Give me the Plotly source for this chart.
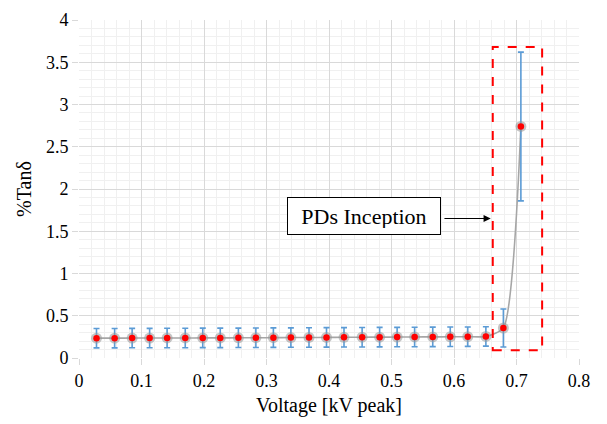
import numpy as np
import plotly.graph_objects as go

# Test voltage steps (kV peak) and measured loss tangent (%)
voltage = [0.028, 0.057, 0.085, 0.113, 0.141, 0.170, 0.198, 0.226, 0.255, 0.283,
           0.311, 0.339, 0.368, 0.396, 0.424, 0.453, 0.481, 0.509, 0.537, 0.566,
           0.594, 0.622, 0.651, 0.679, 0.707]
tan_delta = [0.235, 0.235, 0.236, 0.236, 0.237, 0.237, 0.238, 0.238, 0.239, 0.240,
             0.241, 0.242, 0.243, 0.244, 0.245, 0.246, 0.247, 0.248, 0.249, 0.250,
             0.251, 0.252, 0.255, 0.355, 2.74]
tan_err = [0.115, 0.115, 0.115, 0.115, 0.115, 0.115, 0.115, 0.115, 0.115, 0.115,
           0.115, 0.115, 0.115, 0.115, 0.115, 0.115, 0.115, 0.115, 0.115, 0.115,
           0.115, 0.115, 0.115, 0.225, 0.88]

x_ticks = [0, 0.1, 0.2, 0.3, 0.4, 0.5, 0.6, 0.7, 0.8]
x_tick_text = ["0", "0.1", "0.2", "0.3", "0.4", "0.5", "0.6", "0.7", "0.8"]
y_ticks = [0, 0.5, 1, 1.5, 2, 2.5, 3, 3.5, 4]
y_tick_text = ["0", "0.5", "1", "1.5", "2", "2.5", "3", "3.5", "4"]

# Highlight region around the inception voltage
region_x = [0.662, 0.741]
region_y = [0.092, 3.68]
label_text = "PDs Inception"

serif = "Liberation Serif, Times New Roman, serif"

fig = go.Figure()

# smooth connecting curve
fig.add_trace(go.Scatter(
    x=voltage, y=tan_delta, mode="lines",
    line=dict(color="#a6a6a6", width=1.6, shape="spline", smoothing=0.6),
    hoverinfo="skip", showlegend=False))

# error bars with soft grey halo behind the markers
fig.add_trace(go.Scatter(
    x=voltage, y=tan_delta, mode="markers",
    marker=dict(color="rgba(150,150,150,0.55)", size=11),
    error_y=dict(type="data", array=tan_err, visible=True,
                 color="#5b9bd5", thickness=1.6, width=3),
    showlegend=False))

fig.add_trace(go.Scatter(
    x=voltage, y=tan_delta, mode="markers",
    marker=dict(color="#ff0000", size=6.5, line=dict(width=0)),
    showlegend=False))

fig.add_shape(type="rect", xref="x", yref="y",
              x0=region_x[0], x1=region_x[1], y0=region_y[0], y1=region_y[1],
              line=dict(color="#ff0000", width=2, dash="dash"))

fig.add_annotation(
    x=region_x[0], y=1.651, xref="x", yref="y",
    ax=0.5823, ay=1.651, axref="x", ayref="y",
    text="", showarrow=True, arrowhead=2, arrowsize=1.2, arrowwidth=1.2,
    arrowcolor="#000000", standoff=2)

fig.add_annotation(
    x=0.4557, y=1.68, xref="x", yref="y",
    text=label_text, showarrow=False,
    font=dict(family=serif, size=22, color="#000000"),
    bordercolor="#000000", borderwidth=1, bgcolor="#ffffff",
    borderpad=6, width=140, height=24)

axis_common = dict(
    showline=False, zeroline=False,
    gridcolor="#d9d9d9", gridwidth=1,
    ticks="outside", ticklen=6, tickcolor="#d9d9d9",
    tickfont=dict(family=serif, size=18, color="#000000"),
)

fig.update_xaxes(
    range=[0, 0.8], tickvals=x_ticks, ticktext=x_tick_text,
    title=dict(text="Voltage [kV peak]", font=dict(family=serif, size=20, color="#000000"),
               standoff=8),
    minor=dict(dtick=0.02, showgrid=True, gridcolor="#f0f0f0", gridwidth=1),
    **axis_common)
fig.update_yaxes(
    range=[0, 4], tickvals=y_ticks, ticktext=y_tick_text,
    title=dict(text="%Tanδ", font=dict(family=serif, size=20, color="#000000"),
               standoff=8),
    minor=dict(dtick=0.1, showgrid=True, gridcolor="#f0f0f0", gridwidth=1),
    **axis_common)

fig.update_layout(
    width=607, height=424,
    margin=dict(l=79, r=28, t=10, b=66),
    paper_bgcolor="#ffffff", plot_bgcolor="#ffffff",
    showlegend=False,
    font=dict(family=serif),
)

fig.write_html("out.html")
